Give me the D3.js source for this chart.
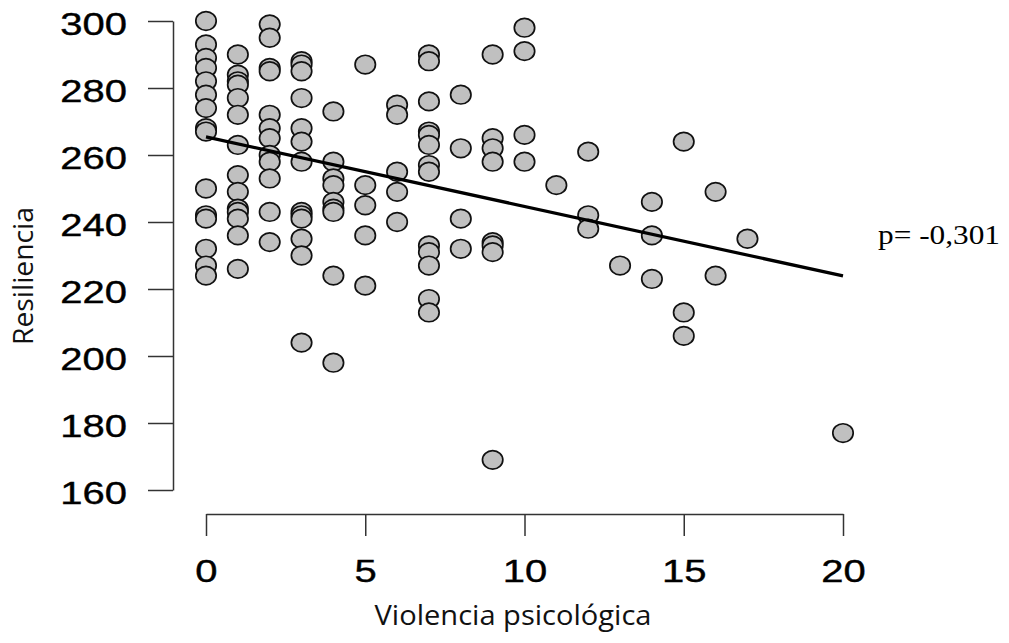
<!DOCTYPE html>
<html>
<head>
<meta charset="utf-8">
<script src="https://cdn.jsdelivr.net/npm/d3@7"></script>
<style>
  html, body { margin: 0; padding: 0; background: #fff; }
  svg { display: block; }
</style>
</head>
<body>
<svg id="chart" width="1009" height="643"></svg>
<script>
// ---- data ----
const violencia = [
  0,0,0,0,0,0,0,0,0,0,0,0,0,0,0,
  1,1,1,1,1,1,1,1,1,1,1,1,1,1,
  2,2,2,2,2,2,2,2,2,2,2,2,
  3,3,3,3,3,3,3,3,3,3,3,3,3,
  4,4,4,4,4,4,4,4,4,
  5,5,5,5,5,
  6,6,6,6,6,
  7,7,7,7,7,7,7,7,7,7,7,7,7,
  8,8,8,8,
  9,9,9,9,9,9,9,9,
  10,10,10,10,
  11,
  12,12,12,
  13,
  14,14,14,
  15,15,15,
  16,16,
  17,
  20
];
const resiliencia = [
  300,293,289,286,282,278,274,268,267,250,242,241,232,227,224,
  290,284,282,281,277,272,263,254,249,244,243,241,236,226,
  299,295,286,285,272,268,265,260,258,253,243,234,
  288,287,285,277,268,264,258,243,242,241,235,230,204,
  273,258,253,251,246,244,243,224,198,
  287,251,245,236,221,
  275,272,255,249,240,
  290,288,276,267,266,263,257,255,233,231,227,217,213,
  278,262,241,232,
  290,265,262,258,234,233,231,169,
  298,291,266,258,
  251,
  261,242,238,
  227,
  246,236,223,
  264,213,206,
  249,224,
  235,
  177
];
const xTicks = [0, 5, 10, 15, 20];
const yTicks = [160, 180, 200, 220, 240, 260, 280, 300];
const fitX = [0, 20];
const fitY = [265.4, 223.9];
const xTitle = "Violencia psicológica";
const yTitle = "Resiliencia";
const annotation = "p= -0,301";

// ---- drawing ----
const svg = d3.select("#chart");
const x = d3.scaleLinear().domain([0, 20]).range([206, 843]);
const y = d3.scaleLinear().domain([160, 300]).range([490, 21]);
const stretch = 1.25;

// Y axis
const yAxisG = svg.append("g")
  .attr("transform", "translate(173,0)")
  .call(d3.axisLeft(y).tickValues(yTicks).tickSize(25).tickSizeOuter(0).tickFormat(d3.format("d")));
yAxisG.selectAll("path, line").attr("stroke", "#333").attr("stroke-width", 1.5);
yAxisG.selectAll("text")
  .attr("x", null).attr("dy", null)
  .attr("y", 13.5)
  .attr("text-anchor", "end")
  .attr("transform", `translate(-46,0) scale(${stretch},1)`)
  .style("font-family", "'Liberation Sans', Arial, sans-serif")
  .style("font-size", "32px")
  .attr("fill", "#000")
  .attr("stroke", "#000").attr("stroke-width", 0.4);

// X axis
const xAxisG = svg.append("g")
  .attr("transform", "translate(0,514)")
  .call(d3.axisBottom(x).tickValues(xTicks).tickSize(22).tickSizeOuter(0).tickFormat(d3.format("d")));
xAxisG.selectAll("path, line").attr("stroke", "#333").attr("stroke-width", 1.5);
xAxisG.selectAll("text")
  .attr("dy", null)
  .attr("y", 0)
  .attr("x", 0)
  .attr("text-anchor", "middle")
  .attr("transform", `translate(0,68) scale(${stretch},1)`)
  .style("font-family", "'Liberation Sans', Arial, sans-serif")
  .style("font-size", "32px")
  .attr("fill", "#000")
  .attr("stroke", "#000").attr("stroke-width", 0.4);

// Axis titles
svg.append("text")
  .attr("x", 513).attr("y", 625)
  .attr("text-anchor", "middle")
  .attr("textLength", 277).attr("lengthAdjust", "spacingAndGlyphs")
  .style("font-family", "'Open Sans', sans-serif")
  .style("font-size", "27px")
  .attr("fill", "#111")
  .text(xTitle);

svg.append("text")
  .attr("transform", `translate(33,276) scale(1.1,1) rotate(-90)`)
  .attr("text-anchor", "middle")
  .attr("textLength", 138).attr("lengthAdjust", "spacingAndGlyphs")
  .style("font-family", "'Open Sans', sans-serif")
  .style("font-size", "25px")
  .attr("fill", "#111")
  .text(yTitle);

// Points
const pts = violencia.map((v, i) => ({ x: v, y: resiliencia[i] }));
svg.append("g")
  .selectAll("ellipse")
  .data(pts)
  .join("ellipse")
  .attr("cx", d => x(d.x))
  .attr("cy", d => y(d.y))
  .attr("rx", 10.2)
  .attr("ry", 9.3)
  .attr("fill", "#c0c0c0")
  .attr("stroke", "#111")
  .attr("stroke-width", 1.7);

// Fit line
svg.append("path")
  .datum(fitX.map((v, i) => [v, fitY[i]]))
  .attr("d", d3.line().x(d => x(d[0])).y(d => y(d[1])))
  .attr("stroke", "#000")
  .attr("stroke-width", 3.2)
  .attr("fill", "none");

// Annotation
svg.append("text")
  .attr("x", 878).attr("y", 244)
  .attr("textLength", 122).attr("lengthAdjust", "spacingAndGlyphs")
  .style("font-family", "'Liberation Serif', 'Times New Roman', serif")
  .style("font-size", "28px")
  .attr("fill", "#000")
  .text(annotation);
</script>
</body>
</html>
